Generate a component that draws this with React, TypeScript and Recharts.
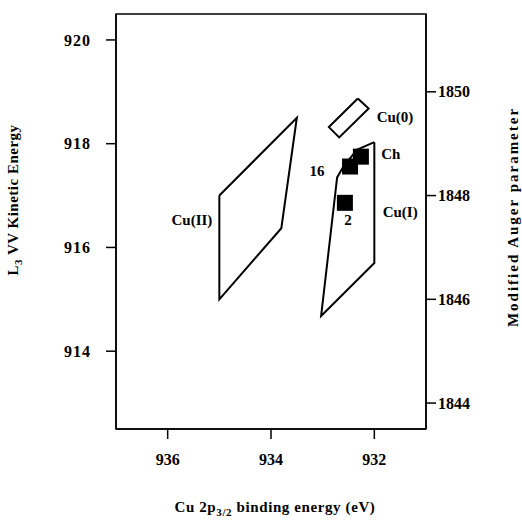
import { ComposedChart, Scatter, XAxis, YAxis, ReferenceArea } from 'recharts'

// binding energy (eV) vs L3VV kinetic energy (eV)
const cuIIRegion = [
  { be: 935.0, ke: 917.0 },
  { be: 933.5, ke: 918.5 },
  { be: 933.8, ke: 916.37 },
  { be: 935.0, ke: 915.0 },
  { be: 935.0, ke: 917.0 },
]

const cuIRegion = [
  { be: 932.0, ke: 918.03 },
  { be: 932.0, ke: 915.7 },
  { be: 933.03, ke: 914.68 },
  { be: 932.72, ke: 917.35 },
  { be: 932.61, ke: 917.54 },
  { be: 932.34, ke: 917.88 },
  { be: 932.0, ke: 918.03 },
]

const cu0Region = [
  { be: 932.32, ke: 918.87 },
  { be: 932.11, ke: 918.68 },
  { be: 932.68, ke: 918.12 },
  { be: 932.88, ke: 918.32 },
  { be: 932.32, ke: 918.87 },
]

// measured samples
const samples = [
  { be: 932.57, ke: 916.86 },
  { be: 932.47, ke: 917.56 },
  { be: 932.26, ke: 917.75 },
]

const annotations = [
  { be: 931.6, ke: 918.52, text: 'Cu(0)' },
  { be: 931.68, ke: 917.81, text: 'Ch' },
  { be: 933.11, ke: 917.48, text: '16' },
  { be: 932.51, ke: 916.53, text: '2' },
  { be: 931.5, ke: 916.69, text: 'Cu(I)' },
  { be: 935.53, ke: 916.52, text: 'Cu(II)' },
]

const xTicks = [932, 934, 936]
const keTicks = [914, 916, 918, 920]
const augerTicks = [1844, 1846, 1848, 1850]
const keDomain = [912.5, 920.5]
const augerDomain = [1843.5, 1851.5]

// invisible anchors so the right axis gets drawn
const augerAnchors = augerDomain.map((v) => ({ be: 931, ke: v }))

const FONT = '"Liberation Serif", "Times New Roman", serif'
const tickStyle = { fontFamily: FONT, fontWeight: 700, fontSize: 16, fill: '#000' }

const NoDot = () => <g />

const Square = (props: any) => (
  <rect x={props.cx - 8} y={props.cy - 8} width={16} height={16} fill="#000" />
)

const Note = (props: any) => (
  <text
    x={props.cx}
    y={props.cy}
    textAnchor="middle"
    dominantBaseline="central"
    fontFamily={FONT}
    fontWeight={700}
    fontSize={15}
    fill="#000"
  >
    {props.payload.text}
  </text>
)

export default function App() {
  const line = { stroke: '#000', strokeWidth: 2 }
  return (
    <div style={{ position: 'absolute', left: 0, top: 0, background: '#fff' }}>
      <ComposedChart width={522} height={521} margin={{ top: 14, right: 0, left: 0, bottom: 0 }}>
        <XAxis
          type="number"
          dataKey="be"
          domain={[931, 937]}
          reversed
          ticks={xTicks}
          tickSize={10}
          tickMargin={15}
          height={92}
          stroke="#000"
          strokeWidth={1.5}
          tick={tickStyle}
          label={{
            content: (p: any) => {
              const vb = p.viewBox
              return (
                <text
                  x={vb.x + vb.width / 2 + 4}
                  y={512}
                  textAnchor="middle"
                  fontFamily={FONT}
                  fontWeight={700}
                  fontSize={15}
                  letterSpacing={0.6}
                  fill="#000"
                >
                  Cu 2p
                  <tspan fontSize={11} dy={4}>3/2</tspan>
                  <tspan dy={-4}> binding energy (eV)</tspan>
                </text>
              )
            },
          }}
        />
        <YAxis
          yAxisId="left"
          type="number"
          dataKey="ke"
          domain={keDomain}
          ticks={keTicks}
          tickSize={10}
          tickMargin={15}
          width={116}
          stroke="#000"
          strokeWidth={1.5}
          tick={{ ...tickStyle, letterSpacing: 1 }}
          label={{
            content: () => (
              <text
                transform="translate(18, 200) rotate(-90)"
                textAnchor="middle"
                fontFamily={FONT}
                fontWeight={700}
                fontSize={15}
                letterSpacing={0.5}
                fill="#000"
              >
                L
                <tspan fontSize={11} dy={4}>3</tspan>
                <tspan dy={-4}> VV Kinetic Energy</tspan>
              </text>
            ),
          }}
        />
        <YAxis
          yAxisId="right"
          orientation="right"
          type="number"
          dataKey="ke"
          domain={augerDomain}
          ticks={augerTicks}
          tickSize={10}
          tickMargin={2}
          width={96}
          stroke="#000"
          strokeWidth={1.5}
          tick={tickStyle}
          label={{
            content: () => (
              <text
                transform="translate(518, 217) rotate(-90)"
                textAnchor="middle"
                fontFamily={FONT}
                fontWeight={700}
                fontSize={15}
                letterSpacing={2}
                fill="#000"
              >
                Modified Auger parameter
              </text>
            ),
          }}
        />
        <ReferenceArea
          yAxisId="left"
          x1={937}
          x2={931}
          y1={912.5}
          y2={920.5}
          fill="none"
          stroke="#000"
          strokeWidth={1.5}
        />
        <Scatter yAxisId="right" data={augerAnchors} shape={NoDot} isAnimationActive={false} />
        <Scatter yAxisId="left" data={cuIIRegion} line={line} shape={NoDot} isAnimationActive={false} />
        <Scatter yAxisId="left" data={cuIRegion} line={line} shape={NoDot} isAnimationActive={false} />
        <Scatter yAxisId="left" data={cu0Region} line={line} shape={NoDot} isAnimationActive={false} />
        <Scatter yAxisId="left" data={samples} shape={Square} isAnimationActive={false} />
        <Scatter yAxisId="left" data={annotations} shape={Note} isAnimationActive={false} />
      </ComposedChart>
    </div>
  )
}
